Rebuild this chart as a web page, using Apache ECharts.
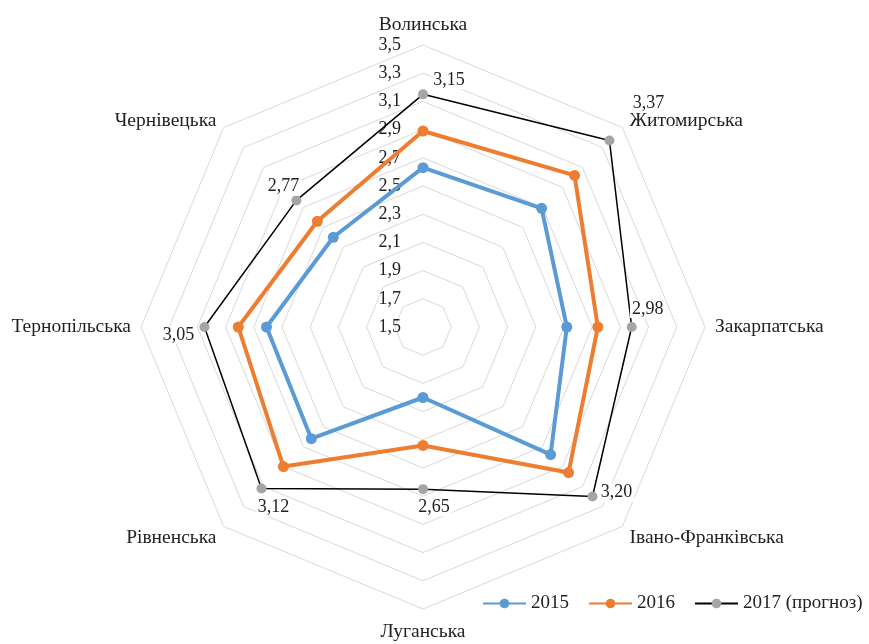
<!DOCTYPE html>
<html>
<head>
<meta charset="utf-8">
<script src="https://cdn.jsdelivr.net/npm/echarts@6/dist/echarts.min.js"></script>
<style>
  html, body { margin: 0; padding: 0; background: #fff; }
  #main { width: 869px; height: 644px; }
</style>
</head>
<body>
<div id="main"></div>
<script>
// regions, clockwise from the top
var regions = ['Волинська', 'Житомирська', 'Закарпатська', 'Івано-Франківська',
               'Луганська', 'Рівненська', 'Тернопільська', 'Чернівецька'];
var v2015 = [2.63, 2.69, 2.52, 2.78, 2.00, 2.62, 2.61, 2.40];
var v2016 = [2.89, 3.02, 2.74, 2.96, 2.34, 2.90, 2.81, 2.56];
var v2017 = [3.15, 3.37, 2.98, 3.20, 2.65, 3.12, 3.05, 2.77];
var seriesNames = ['2015', '2016', '2017 (прогноз)'];

// where each 2017 label sits relative to its point
var labelShift = [[26, -14], [39, -37], [16, -18], [24, -4],
                  [11, 18], [12, 19], [-26, 8], [-13, -14]];
// names on the lower diagonals sit a bit further out
var lowNames = ['Івано-Франківська', 'Рівненська'];

var FONT = 'Liberation Serif';

// echarts lays radar axes out counter-clockwise, so reorder
var order = [0, 7, 6, 5, 4, 3, 2, 1];
function reorder(arr) { return order.map(function (i) { return arr[i]; }); }
function fmt(v) { return v.toFixed(2).replace('.', ','); }

var indicators = reorder(regions).map(function (n, k) {
    var ind = { name: n, min: 1.5, max: 3.5 };
    if (k === 0) ind.axisLabel = { show: true };
    return ind;
});

var myChart = echarts.init(document.getElementById('main'));

var option = {
    animation: false,
    textStyle: { fontFamily: FONT },
    legend: {
        data: seriesNames,
        left: 482,
        top: 594,
        padding: 0,
        itemWidth: 43,
        itemHeight: 12,
        itemGap: 19,
        textStyle: { fontFamily: FONT, fontSize: 19, color: '#222' }
    },
    grid: { show: false },
    xAxis: { show: false, type: 'category', data: [] },
    yAxis: { show: false, type: 'value' },
    radar: {
        center: [423, 327],
        radius: 282,
        startAngle: 90,
        shape: 'polygon',
        splitNumber: 10,
        axisName: {
            color: '#222', fontFamily: FONT, fontSize: 19.5,
            formatter: function (n) {
                if (lowNames.indexOf(n) >= 0) return '{low|' + n + '}';
                if (n === 'Луганська') return '{bot|' + n + '}';
                return n;
            },
            rich: {
                low: { fontFamily: FONT, fontSize: 19.5, color: '#222', padding: [8, 0, 0, 0] },
                bot: { fontFamily: FONT, fontSize: 19.5, color: '#222', padding: [3, 0, 0, 0] }
            }
        },
        nameGap: 10,
        axisLine: { show: false },
        axisTick: { show: false },
        splitArea: { show: false },
        splitLine: { lineStyle: { color: '#d9d9d9', width: 1 } },
        axisLabel: {
            show: false,
            color: '#222',
            fontFamily: FONT,
            fontSize: 18,
            margin: 22,
            formatter: function (v) { return v.toFixed(1).replace('.', ','); }
        },
        indicator: indicators
    },
    series: [
        // legend-only line series (give the line+marker legend icons)
        { name: '2015', type: 'line', data: [], symbol: 'circle',
          itemStyle: { color: '#5B9BD5' }, lineStyle: { color: '#5B9BD5', width: 3.5 } },
        { name: '2016', type: 'line', data: [], symbol: 'circle',
          itemStyle: { color: '#ED7D31' }, lineStyle: { color: '#ED7D31', width: 3.5 } },
        { name: '2017 (прогноз)', type: 'line', data: [], symbol: 'circle',
          itemStyle: { color: '#A5A5A5' }, lineStyle: { color: '#000', width: 1.5 } },
        {
            type: 'radar',
            name: '2015',
            symbol: 'circle',
            symbolSize: 11,
            itemStyle: { color: '#5B9BD5' },
            lineStyle: { color: '#5B9BD5', width: 4 },
            data: [{ name: '2015', value: reorder(v2015) }]
        },
        {
            type: 'radar',
            name: '2016',
            symbol: 'circle',
            symbolSize: 11,
            itemStyle: { color: '#ED7D31' },
            lineStyle: { color: '#ED7D31', width: 4 },
            data: [{ name: '2016', value: reorder(v2016) }]
        },
        {
            type: 'radar',
            name: '2017 (прогноз)',
            symbol: 'circle',
            symbolSize: 10,
            z: 3,
            itemStyle: { color: '#A5A5A5' },
            lineStyle: { color: '#000', width: 1.5 },
            label: {
                show: true,
                position: 'inside',
                color: '#222',
                fontFamily: FONT,
                fontSize: 18,
                backgroundColor: '#fff',
                padding: [0, 2],
                formatter: function (p) { return fmt(p.value); }
            },
            labelLayout: function (p) {
                var idx = v2017.map(fmt).indexOf(p.text);
                if (idx < 0) return {};
                return { dx: labelShift[idx][0], dy: labelShift[idx][1] };
            },
            data: [{ name: '2017 (прогноз)', value: reorder(v2017) }]
        }
    ]
};

myChart.setOption(option);
</script>
</body>
</html>
